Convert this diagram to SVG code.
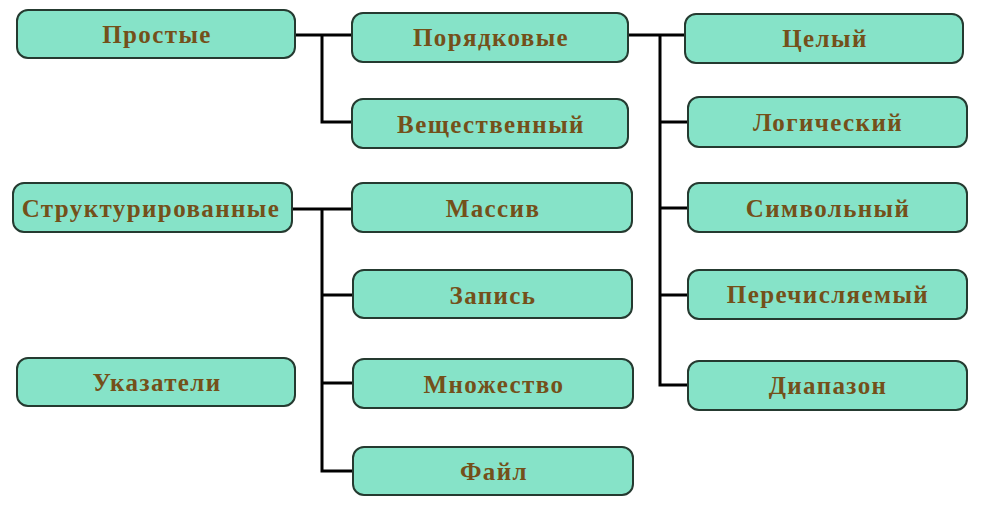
<svg xmlns="http://www.w3.org/2000/svg" width="984" height="508" viewBox="0 0 984 508">
<style>
.box{fill:#86E3C8;stroke:#253a30;stroke-width:2}
.t{font-family:"Liberation Serif","DejaVu Serif",serif;font-weight:bold;font-size:25px;letter-spacing:1.4px;fill:#74501a;text-anchor:middle;dominant-baseline:central}
.c{fill:none;stroke:#000;stroke-width:3}
</style>
<rect width="984" height="508" fill="#fff"/>
<g id="connectors">
<path class="c" d="M295 35H352M322 35V122H352"/>
<path class="c" d="M628 35H686M660 35V385H688M660 122H688M660 208H688M660 295H688"/>
<path class="c" d="M292 209H352M322 209V471H353M322 295H353M322 383H353"/>
</g>
<g id="n-prostye"><rect class="box" x="17" y="10" width="278" height="48" rx="11"/><text class="t" x="157" y="34">Простые</text></g>
<g id="n-struct"><rect class="box" x="13" y="183" width="279" height="49" rx="11"/><text class="t" x="151" y="208">Структурированные</text></g>
<g id="n-ukaz"><rect class="box" x="17" y="358" width="278" height="48" rx="11"/><text class="t" x="157" y="382">Указатели</text></g>
<g id="n-poryad"><rect class="box" x="352" y="13" width="276" height="49" rx="11"/><text class="t" x="491" y="37">Порядковые</text></g>
<g id="n-vesh"><rect class="box" x="352" y="99" width="276" height="49" rx="11"/><text class="t" x="491" y="124">Вещественный</text></g>
<g id="n-massiv"><rect class="box" x="352" y="183" width="280" height="49" rx="11"/><text class="t" x="493" y="208">Массив</text></g>
<g id="n-zapis"><rect class="box" x="353" y="270" width="279" height="48" rx="11"/><text class="t" x="493" y="295">Запись</text></g>
<g id="n-mnozh"><rect class="box" x="353" y="359" width="280" height="49" rx="11"/><text class="t" x="494" y="384">Множество</text></g>
<g id="n-fail"><rect class="box" x="353" y="447" width="280" height="48" rx="11"/><text class="t" x="494" y="471">Файл</text></g>
<g id="n-celyi"><rect class="box" x="685" y="14" width="278" height="49" rx="11"/><text class="t" x="825" y="38">Целый</text></g>
<g id="n-log"><rect class="box" x="688" y="97" width="279" height="50" rx="11"/><text class="t" x="828" y="122">Логический</text></g>
<g id="n-simv"><rect class="box" x="688" y="183" width="279" height="49" rx="11"/><text class="t" x="828" y="208">Символьный</text></g>
<g id="n-perech"><rect class="box" x="688" y="270" width="279" height="49" rx="11"/><text class="t" x="828" y="294">Перечисляемый</text></g>
<g id="n-diap"><rect class="box" x="688" y="361" width="279" height="49" rx="11"/><text class="t" x="828" y="385">Диапазон</text></g>
</svg>
